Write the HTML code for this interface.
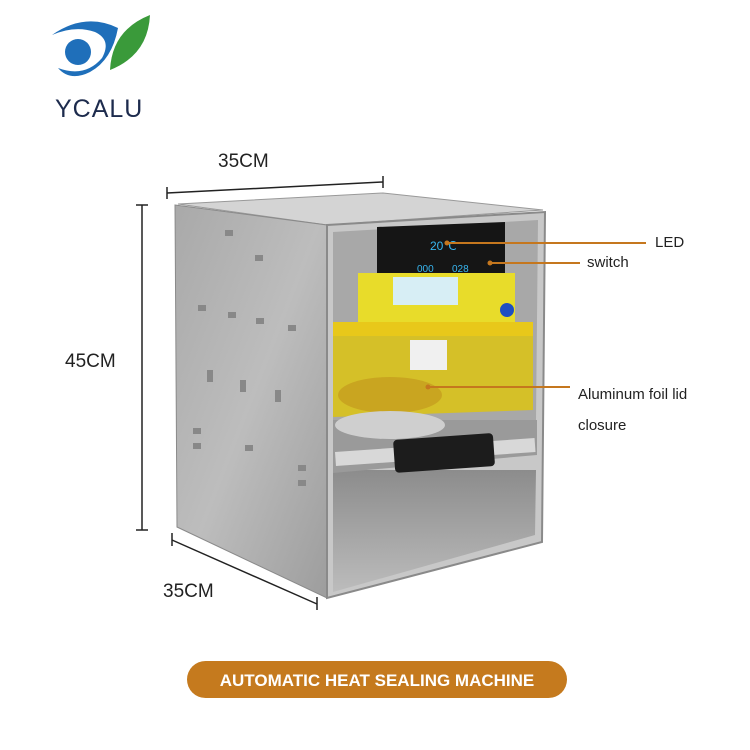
<!DOCTYPE html>
<html><head><meta charset="utf-8"><style>
body{margin:0;background:#fff;}
svg{display:block}
text{font-family:"Liberation Sans",sans-serif;}
</style></head><body>
<svg width="750" height="750" viewBox="0 0 750 750">
<rect width="750" height="750" fill="#fff"/>
<!-- logo -->
<circle cx="78" cy="52" r="13" fill="#1f6fba"/>
<path d="M52 35 Q85 12 118 28 Q112 60 90 72 Q70 82 58 68 Q85 78 102 58 Q112 40 95 32 Q75 25 52 35Z" fill="#1f6fba"/>
<path d="M110 70 Q112 30 150 15 Q148 55 110 70Z" fill="#3a9a3a"/>
<text x="55" y="117" font-size="25" fill="#1d2b4d" letter-spacing="1">YCALU</text>
<!-- dimension lines -->
<line x1="167" y1="193" x2="383" y2="182" stroke="#222" stroke-width="1.5"/>
<line x1="167" y1="187" x2="167" y2="199" stroke="#222" stroke-width="1.5"/>
<line x1="383" y1="176" x2="383" y2="188" stroke="#222" stroke-width="1.5"/>
<text x="218" y="167" font-size="19" fill="#222">35CM</text>
<line x1="142" y1="205" x2="142" y2="530" stroke="#222" stroke-width="1.5"/>
<line x1="136" y1="205" x2="148" y2="205" stroke="#222" stroke-width="1.5"/>
<line x1="136" y1="530" x2="148" y2="530" stroke="#222" stroke-width="1.5"/>
<text x="65" y="367" font-size="19" fill="#222">45CM</text>
<line x1="172" y1="540" x2="317" y2="604" stroke="#222" stroke-width="1.5"/>
<line x1="172" y1="533" x2="172" y2="546" stroke="#222" stroke-width="1.5"/>
<line x1="317" y1="597" x2="317" y2="610" stroke="#222" stroke-width="1.5"/>
<text x="163" y="597" font-size="19" fill="#222">35CM</text>
<!-- machine -->
<defs>
<linearGradient id="side" x1="0" y1="0" x2="1" y2="1"><stop offset="0" stop-color="#a9a9a9"/><stop offset="0.5" stop-color="#bdbdbd"/><stop offset="1" stop-color="#9d9d9d"/></linearGradient>
<linearGradient id="cav" x1="0" y1="0" x2="0" y2="1"><stop offset="0" stop-color="#8c8c8c"/><stop offset="1" stop-color="#bcbcbc"/></linearGradient>
</defs>
<polygon points="178,204 383,193 543,210 327,225" fill="#d4d4d4" stroke="#999"/>
<polygon points="175,205 327,225 327,598 177,527" fill="url(#side)" stroke="#8a8a8a"/>
<polygon points="327,225 545,212 542,542 327,598" fill="#c8c8c8" stroke="#8a8a8a" stroke-width="2"/>
<polygon points="333,232 538,220 536,420 333,420" fill="#a8a8a8"/>
<polygon points="333,470 536,470 535,535 333,592" fill="url(#cav)"/>
<polygon points="377,227 505,222 505,285 377,287" fill="#151515"/>
<text x="430" y="250" font-size="12" fill="#38b6f0">20℃</text>
<text x="417" y="272" font-size="10" fill="#38b6f0">000</text>
<text x="452" y="272" font-size="10" fill="#38b6f0">028</text>
<rect x="358" y="273" width="157" height="63" fill="#e8dc2a"/>
<rect x="393" y="277" width="65" height="28" fill="#d7eef5"/>
<circle cx="507" cy="310" r="7" fill="#1f4fc2"/>
<polygon points="333,322 533,322 533,410 333,417" fill="#d9c21a" opacity="0.9"/>
<rect x="333" y="322" width="200" height="14" fill="#e8c81a"/>
<rect x="410" y="340" width="37" height="30" fill="#f0f0f0"/>
<ellipse cx="390" cy="395" rx="52" ry="18" fill="#c9a520"/>
<polygon points="333,420 537,420 537,455 333,473" fill="#9a9a9a"/>
<ellipse cx="390" cy="425" rx="55" ry="14" fill="#cfcfcf"/>
<rect x="335" y="452" width="200" height="14" fill="#d8d8d8" transform="rotate(-4 335 452)"/>
<rect x="393" y="440" width="100" height="33" rx="4" fill="#1c1c1c" transform="rotate(-4 393 440)"/>
<g fill="#888">
<rect x="225" y="230" width="8" height="6"/><rect x="255" y="255" width="8" height="6"/>
<rect x="198" y="305" width="8" height="6"/><rect x="228" y="312" width="8" height="6"/>
<rect x="256" y="318" width="8" height="6"/><rect x="288" y="325" width="8" height="6"/>
<rect x="207" y="370" width="6" height="12"/><rect x="240" y="380" width="6" height="12"/><rect x="275" y="390" width="6" height="12"/>
<rect x="193" y="428" width="8" height="6"/><rect x="193" y="443" width="8" height="6"/>
<rect x="245" y="445" width="8" height="6"/><rect x="298" y="465" width="8" height="6"/><rect x="298" y="480" width="8" height="6"/>
</g>
<!-- callouts -->
<g stroke="#c5771e" stroke-width="2">
<line x1="447" y1="243" x2="646" y2="243"/>
<line x1="490" y1="263" x2="580" y2="263"/>
<line x1="428" y1="387" x2="570" y2="387"/>
</g>
<circle cx="447" cy="243" r="2.5" fill="#c5771e"/>
<circle cx="490" cy="263" r="2.5" fill="#c5771e"/>
<circle cx="428" cy="387" r="2.5" fill="#c5771e"/>
<text x="655" y="247" font-size="15" fill="#222">LED</text>
<text x="587" y="267" font-size="15" fill="#222">switch</text>
<text x="578" y="399" font-size="15" fill="#222">Aluminum foil lid</text>
<text x="578" y="430" font-size="15" fill="#222">closure</text>
<!-- banner -->
<rect x="187" y="661" width="380" height="37" rx="18.5" fill="#c57a1e"/>
<text x="377" y="686" font-size="17" font-weight="bold" fill="#fff" text-anchor="middle">AUTOMATIC HEAT SEALING MACHINE</text>
</svg>
</body></html>
